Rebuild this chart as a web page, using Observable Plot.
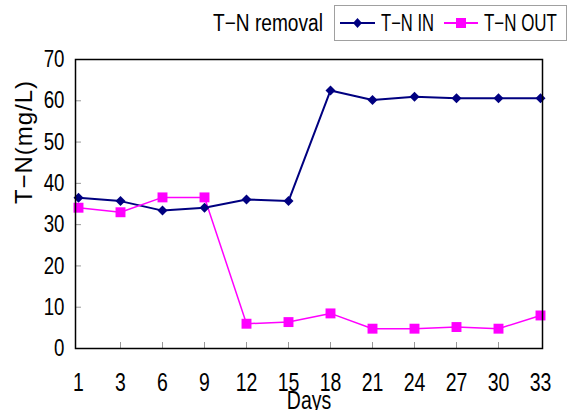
<!DOCTYPE html>
<html>
<head>
<meta charset="utf-8">
<script src="https://cdn.jsdelivr.net/npm/d3@7"></script>
<script src="https://cdn.jsdelivr.net/npm/@observablehq/plot@0.6"></script>
<style>
  html, body { margin: 0; padding: 0; background: white; overflow: hidden; }
  #wrap { width: 570px; height: 410px; overflow: hidden; }
</style>
</head>
<body>
<div id="wrap"></div>
<script>
const days = [1, 3, 6, 9, 12, 15, 18, 21, 24, 27, 30, 33];
const tnIn = [36.5, 35.7, 33.4, 34.1, 36.1, 35.7, 62.5, 60.2, 61.0, 60.6, 60.6, 60.6];
const tnOut = [34.1, 33.0, 36.6, 36.6, 6.0, 6.4, 8.5, 4.8, 4.8, 5.2, 4.8, 8.0];
const yTicks = [0, 10, 20, 30, 40, 50, 60, 70];
const seriesNames = ["T−N IN", "T−N OUT"];
const seriesColors = ["#000080", "#FF00FF"];
const legendTitle = "T−N removal";
const xLabel = "Days";
const yLabel = "T−N(mg/L)";

const font = "'Liberation Sans', Arial, sans-serif";
const condense = 0.78;
const wrap = document.getElementById("wrap");

// Legend (above the chart)
const leg = d3.create("svg").attr("width", 570).attr("height", 48)
  .style("display", "block").style("font-family", font).style("font-size", "23px");
wrap.appendChild(leg.node());

function fitText(x, y, width, str) {
  const t = leg.append("text").attr("x", 0).attr("y", 0).text(str);
  const len = t.node().getComputedTextLength();
  t.attr("transform", `translate(${x},${y}) scale(${(width / len).toFixed(4)},1)`);
}
fitText(213, 31, 110, legendTitle);
leg.append("rect").attr("x", 334.5).attr("y", 5.5).attr("width", 232).attr("height", 35)
  .attr("fill", "white").attr("stroke", "#a0a0a0");
const items = [
  {x0: 340, x1: 375, tx: 381, tw: 53, sym: "diamond"},
  {x0: 444, x1: 478, tx: 484, tw: 73, sym: "square"}
];
items.forEach((it, i) => {
  const cy = 23;
  leg.append("line").attr("x1", it.x0).attr("x2", it.x1).attr("y1", cy).attr("y2", cy)
    .attr("stroke", seriesColors[i]).attr("stroke-width", 2);
  const cx = (it.x0 + it.x1) / 2;
  if (it.sym === "diamond") {
    leg.append("path").attr("d", `M${cx},${cy-5}L${cx+4.5},${cy}L${cx},${cy+5}L${cx-4.5},${cy}Z`).attr("fill", seriesColors[i]);
  } else {
    leg.append("rect").attr("x", cx - 5).attr("y", cy - 5).attr("width", 10).attr("height", 10).attr("fill", seriesColors[i]);
  }
  fitText(it.tx, 31, it.tw, seriesNames[i]);
});

const rowsIn = days.map((d, i) => ({day: d, v: tnIn[i]}));
const rowsOut = days.map((d, i) => ({day: d, v: tnOut[i]}));

const W = 570, H = 362, mT = 11, mB = 62, mL = 75, mR = 28;
const fw = W - mL - mR, fh = H - mT - mB;

const chart = Plot.plot({
  width: W,
  height: H,
  marginTop: mT,
  marginBottom: mB,
  marginLeft: mL,
  marginRight: mR,
  style: {fontFamily: font, fontSize: "25px", color: "black", background: "white", overflow: "visible"},
  x: {type: "point", domain: days, padding: 0},
  y: {domain: [0, 70]},
  marks: [
    Plot.ruleX(days.slice(1, -1), {x: d => d, insetTop: fh - 6, stroke: "#999", strokeWidth: 1}),
    Plot.ruleY(yTicks.slice(1, -1), {y: d => d, insetRight: fw - 6, stroke: "#999", strokeWidth: 1}),
    Plot.axisX({ticks: days, tickSize: 0, tickPadding: 25, label: null, fontSize: 25}),
    Plot.axisY({ticks: yTicks, tickSize: 0, tickPadding: 11, label: null, fontSize: 24}),
    Plot.text([xLabel], {frameAnchor: "bottom", dy: 43, lineAnchor: "top", fontSize: 25}),
    Plot.text([yLabel], {frameAnchor: "left", dx: -51, rotate: -90, fontSize: 24}),
    Plot.line(rowsIn, {x: "day", y: "v", stroke: seriesColors[0], strokeWidth: 2}),
    Plot.line(rowsOut, {x: "day", y: "v", stroke: seriesColors[1], strokeWidth: 1.5}),
    Plot.dot(rowsIn, {x: "day", y: "v", symbol: "diamond2", r: 4.5, fill: seriesColors[0], stroke: "none"}),
    Plot.dot(rowsOut, {x: "day", y: "v", symbol: "square", r: 5.6, fill: seriesColors[1], stroke: "none"}),
    Plot.frame({stroke: "black", strokeWidth: 1.5})
  ]
});
wrap.appendChild(chart);

// Condense text glyphs to mimic the narrow original typeface
chart.querySelectorAll("text").forEach(el => {
  const len = el.getComputedTextLength();
  if (!len) return;
  if (el.textContent === yLabel) {
    el.setAttribute("textLength", 123);
    el.setAttribute("lengthAdjust", "spacing");
  } else {
    el.setAttribute("textLength", (len * condense).toFixed(1));
    el.setAttribute("lengthAdjust", "spacingAndGlyphs");
  }
});
</script>
</body>
</html>
